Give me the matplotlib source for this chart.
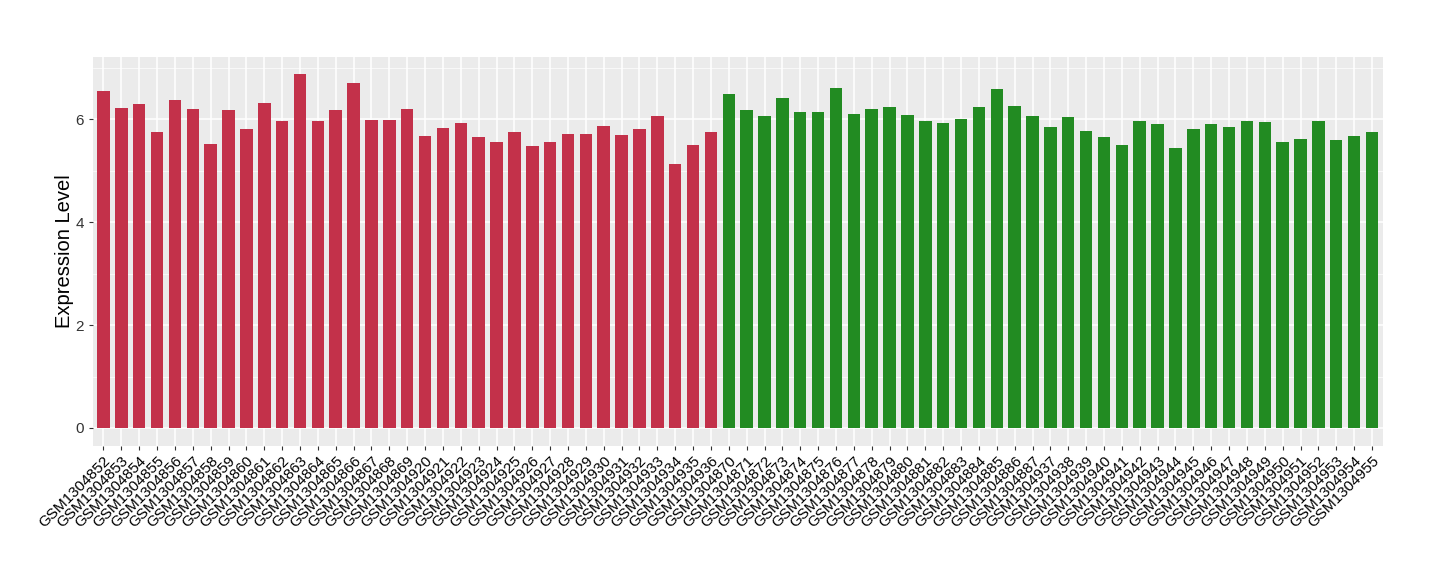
import matplotlib
matplotlib.use("Agg")
import matplotlib.pyplot as plt
import numpy as np

# sample names
red_samples = ["GSM13048%d" % i for i in range(52, 70)] + ["GSM1304%d" % i for i in range(920, 937)]
green_samples = ["GSM13048%d" % i for i in range(70, 88)] + ["GSM1304%d" % i for i in range(937, 956)]

# expression values
red_values = [6.54, 6.21, 6.30, 5.76, 6.38, 6.19, 5.51, 6.17, 5.80, 6.32,
              5.97, 6.87, 5.97, 6.17, 6.71, 5.99, 5.99, 6.19,
              5.67, 5.82, 5.92, 5.65, 5.55, 5.76, 5.47, 5.55, 5.72, 5.72,
              5.86, 5.70, 5.80, 6.07, 5.12, 5.49, 5.76]
green_values = [6.48, 6.17, 6.07, 6.42, 6.13, 6.13, 6.60, 6.11, 6.19, 6.23,
                6.09, 5.96, 5.92, 6.01, 6.23, 6.58, 6.25, 6.07,
                5.84, 6.05, 5.78, 5.65, 5.49, 5.96, 5.90, 5.44, 5.80, 5.90,
                5.84, 5.97, 5.94, 5.55, 5.61, 5.96, 5.59, 5.68, 5.76]

red_col = "#C3314A"
green_col = "#228B22"

plt.rcParams['font.family'] = ['Liberation Sans', 'DejaVu Sans']

labels = red_samples + green_samples
values = red_values + green_values
colors = [red_col] * len(red_samples) + [green_col] * len(green_samples)
x = np.arange(len(labels))

fig = plt.figure(figsize=(14.4, 5.8), dpi=100)
ax = fig.add_axes([0.0644, 0.2316, 0.8958, 0.6706])
ax.set_facecolor("#EBEBEB")

ax.bar(x, values, width=0.7, color=colors, zorder=3)

n = len(labels)
ax.set_xlim(-0.6, n - 1 + 0.6)
top = max(values)
ax.set_ylim(-0.05 * top, top * 1.05)

ax.set_yticks([0, 2, 4, 6])
ax.set_yticks([1, 3, 5, 7], minor=True)
ax.set_xticks(x)
ax.set_xticklabels(labels, rotation=45, ha="right", rotation_mode="anchor", fontsize=11)
ax.tick_params(axis="y", labelsize=11, length=3, color="#333333", labelcolor="#333333")
ax.tick_params(axis="x", length=3, color="#333333", labelcolor="black", pad=3)
ax.tick_params(axis="y", which="minor", length=0)

ax.grid(which="major", color="white", linewidth=1.1, zorder=0)
ax.grid(which="minor", axis="y", color="white", linewidth=0.5, zorder=0)
for s in ax.spines.values():
    s.set_visible(False)

ax.set_ylabel("Expression Level", fontsize=14.5, labelpad=1)

fig.savefig("out.png", dpi=100)
